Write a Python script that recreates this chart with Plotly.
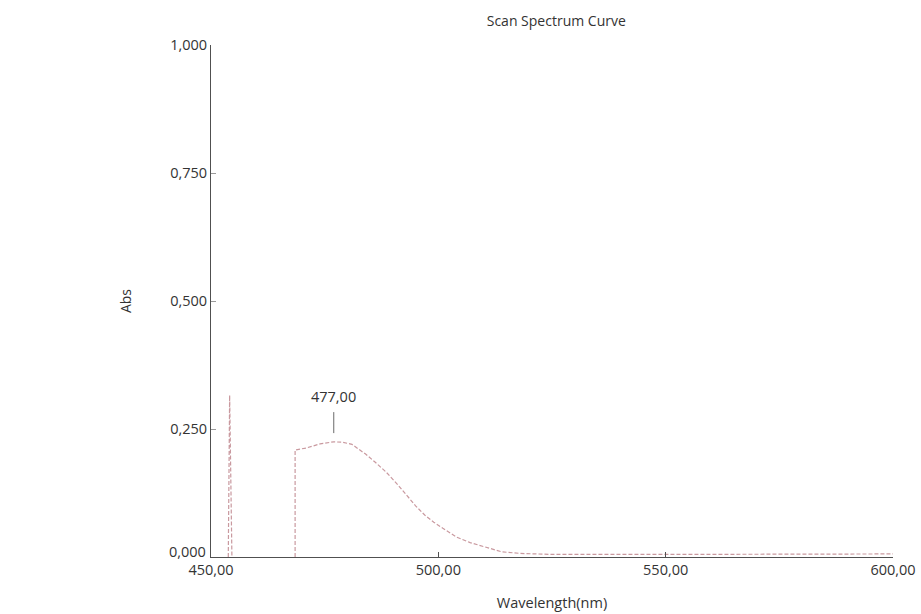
import plotly.graph_objects as go

# Spectrum data
wavelength = [453.8, 454.1, 454.6, None,
              468.5, 468.5, 471.0, 474.0, 477.0, 479.0, 481.0, 484.0, 486.0,
              488.5, 491.0, 493.3, 495.0, 497.0, 499.0, 501.0, 504.0, 507.0,
              510.7, 514.0, 518.0, 525.0, 550.0, 575.0, 600.0]
absorbance = [0.0, 0.316, 0.0, None,
              0.0, 0.209, 0.213, 0.221, 0.225, 0.224, 0.220, 0.201, 0.186,
              0.166, 0.142, 0.117, 0.100, 0.082, 0.068, 0.056, 0.039, 0.028,
              0.018, 0.010, 0.007, 0.005, 0.005, 0.006, 0.006]

x_ticks = [450, 500, 550, 600]
x_tick_labels = ["450,00", "500,00", "550,00", "600,00"]
y_ticks = [0, 0.25, 0.5, 0.75, 1.0]
y_tick_labels = ["0,000", "0,250", "0,500", "0,750", "1,000"]
peak_label = "477,00"
peak_wl = 477.0

font_family = "Open Sans"
fs = 14.5
axis_color = "#505050"
text_color = "#333333"
curve_color = "#c9999f"

peak_abs = max(a for w, a in zip(wavelength, absorbance) if w is not None and w >= 465)

fig = go.Figure()
fig.add_trace(go.Scatter(
    x=wavelength, y=absorbance, mode="lines",
    line=dict(color=curve_color, width=1.2, dash="4px,2px"),
    connectgaps=False, showlegend=False, hoverinfo="x+y",
))

# peak marker line and label
fig.add_shape(type="line", xref="x", yref="y",
              x0=peak_wl, x1=peak_wl, y0=peak_abs + 0.017, y1=peak_abs + 0.058,
              line=dict(color="#6a6a6a", width=1))
fig.add_annotation(x=peak_wl, y=peak_abs + 0.088, text=peak_label, showarrow=False,
                   font=dict(family=font_family, size=fs, color=text_color))

# the zero label of the y axis sits slightly raised above the x axis
fig.add_annotation(xref="paper", yref="y", x=0, y=y_ticks[0], xanchor="right", yanchor="middle",
                   xshift=-3, yshift=6, text=y_tick_labels[0], showarrow=False,
                   font=dict(family=font_family, size=fs, color=text_color))

fig.update_layout(
    width=921, height=614,
    margin=dict(l=211, r=28, t=45, b=57, autoexpand=False),
    paper_bgcolor="white", plot_bgcolor="white",
    title=dict(text="Scan Spectrum Curve", x=0.604, xanchor="center", y=0.966, yanchor="middle",
               font=dict(family=font_family, size=fs - 0.5, color=text_color)),
    font=dict(family=font_family, size=fs, color=text_color),
    xaxis=dict(
        range=[450, 600], tickvals=x_ticks, ticktext=x_tick_labels,
        showgrid=False, zeroline=False, showline=True, linecolor=axis_color, linewidth=1,
        ticks="inside", ticklen=5, tickcolor=axis_color,
        tickfont=dict(family=font_family, size=fs, color=text_color),
        title=dict(text="Wavelength(nm)", standoff=19,
                   font=dict(family=font_family, size=fs, color=text_color)),
        automargin=False,
    ),
    yaxis=dict(
        range=[0, 1.0], tickvals=y_ticks, ticktext=[""] + y_tick_labels[1:],
        showgrid=False, zeroline=False, showline=True, linecolor=axis_color, linewidth=1,
        ticks="inside", ticklen=5, tickcolor="#9a9a9a",
        tickfont=dict(family=font_family, size=fs, color=text_color),
        title=dict(text="Abs", standoff=35,
                   font=dict(family=font_family, size=fs - 0.5, color=text_color)),
        automargin=False,
    ),
)

fig.write_html("out.html", config={"displayModeBar": False},
               post_script="document.body.style.margin='0';")
